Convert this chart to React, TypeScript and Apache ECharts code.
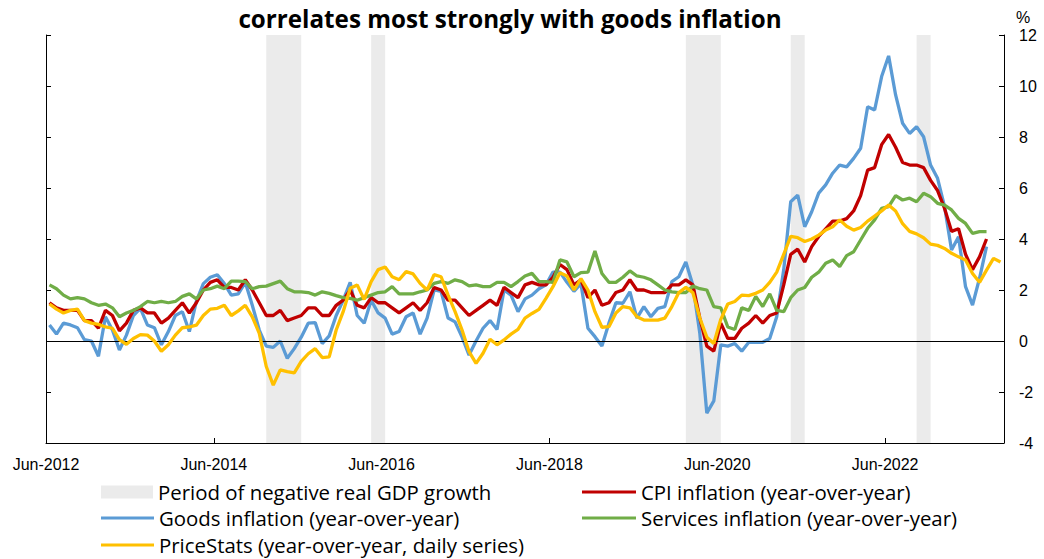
import React, { useEffect, useRef } from "react";
import * as echarts from "echarts";

// x index: 0 = Jun-2012 (monthly points, mid-month); axis starts half a month earlier
const tickLabels = ["Jun-2012", "Jun-2014", "Jun-2016", "Jun-2018", "Jun-2020", "Jun-2022"];

const cpi = [
  1.5, 1.3, 1.2, 1.2, 1.2, 0.8, 0.8,
  0.5, 1.2, 1.0, 0.4, 0.7, 1.2, 1.3, 1.1, 1.1, 0.7, 0.9, 1.2,
  1.5, 1.1, 1.5, 2.0, 2.3, 2.4, 2.1, 2.1, 2.0, 2.4, 2.0, 1.5,
  1.0, 1.0, 1.2, 0.8, 0.9, 1.0, 1.3, 1.3, 1.0, 1.0, 1.4, 1.6,
  2.0, 1.4, 1.3, 1.7, 1.5, 1.5, 1.3, 1.1, 1.3, 1.5, 1.2, 1.5,
  2.1, 2.0, 1.6, 1.6, 1.3, 1.0, 1.2, 1.4, 1.6, 1.4, 2.1, 1.9,
  1.7, 2.2, 2.3, 2.2, 2.2, 2.5, 3.0, 2.8, 2.2, 2.4, 1.7, 2.0,
  1.4, 1.5, 1.9, 2.0, 2.4, 2.0, 2.0, 1.9, 1.9, 1.9, 2.2, 2.2,
  2.4, 2.2, 0.9, -0.2, -0.4, 0.7, 0.1, 0.1, 0.5, 0.7, 1.0, 0.7,
  1.0, 1.1, 2.2, 3.4, 3.6, 3.1, 3.7, 4.1, 4.4, 4.7, 4.7, 4.8,
  5.1, 5.7, 6.7, 6.8, 7.7, 8.1, 7.6, 7.0, 6.9, 6.9, 6.8, 6.3,
  5.9, 5.2, 4.3, 4.4, 3.4, 2.8, 3.3, 4.0,
];

const goods = [
  0.63, 0.27, 0.7, 0.63, 0.52, 0.05, 0.0,
  -0.6, 0.95, 0.43, -0.35, 0.23, 1.0, 1.28, 0.63, 0.52, -0.15, 0.37, 1.0,
  1.15, 0.37, 1.55, 2.25, 2.5, 2.6, 2.25, 1.8, 1.85, 2.3, 1.4, 0.43,
  -0.2, -0.25, 0.0, -0.68, -0.3, 0.15, 0.7, 0.72, -0.1, 0.2, 1.0, 1.6,
  2.3, 1.0, 0.7, 1.6, 1.1, 0.9, 0.27, 0.37, 0.95, 1.1, 0.27, 0.9,
  2.0, 1.95, 0.9, 0.75, 0.15, -0.55, 0.0, 0.5, 0.8, 0.45, 2.0, 1.8,
  1.15, 1.65, 1.8, 2.05, 2.2, 2.7, 2.7, 2.3, 1.95, 2.25, 0.5, 0.17,
  -0.2, 0.7, 1.5, 1.48, 1.93, 0.9, 1.35, 0.95, 1.28, 1.35, 2.33, 2.52,
  3.1, 2.2, 0.3, -2.83, -2.35, -0.15, -0.2, -0.1, -0.4, -0.05, -0.05, -0.05,
  0.1, 0.95, 2.8, 5.46, 5.72, 4.48, 5.07, 5.8, 6.12, 6.58, 6.9, 6.83,
  7.16, 7.56, 9.19, 9.06, 10.37, 11.18, 9.65, 8.54, 8.14, 8.4, 8.01, 6.9,
  6.38, 5.27, 3.57, 4.09, 2.13, 1.41, 2.46, 3.7,
];

const services = [
  2.2, 2.05, 1.8, 1.65, 1.7, 1.65, 1.5,
  1.4, 1.45, 1.3, 0.95, 1.1, 1.2, 1.35, 1.55, 1.5, 1.55, 1.5, 1.55,
  1.75, 1.85, 1.65, 2.0, 2.05, 2.15, 2.05, 2.35, 2.35, 2.33, 2.05, 2.13,
  2.15, 2.25, 2.35, 2.05, 1.93, 1.93, 1.9, 1.8, 1.93, 1.87, 1.78, 1.7,
  1.67, 1.6, 1.7, 1.8, 1.9, 1.93, 2.13, 1.85, 1.85, 1.85, 1.93, 2.0,
  2.26, 2.33, 2.26, 2.4, 2.33, 2.16, 2.2, 2.13, 2.13, 2.3, 2.3, 2.13,
  2.33, 2.55, 2.65, 2.33, 2.33, 2.3, 3.18, 3.1, 2.52, 2.68, 2.7, 3.53,
  2.65, 2.3, 2.3, 2.5, 2.75, 2.55, 2.5, 2.4, 2.2, 2.0, 1.93, 1.9,
  1.9, 2.15, 2.05, 2.0, 1.35, 1.3, 0.55, 0.45, 1.3, 1.2, 1.75, 1.35,
  1.85, 1.2, 1.15, 1.7, 2.0, 2.1, 2.5, 2.7, 3.05, 3.18, 2.92, 3.35,
  3.5, 3.96, 4.42, 4.75, 5.2, 5.27, 5.7, 5.53, 5.6, 5.46, 5.79, 5.66,
  5.4, 5.33, 5.14, 4.81, 4.61, 4.22, 4.29, 4.29,
];

const priceStats = [
  1.45, 1.25, 1.1, 1.2, 1.25, 0.8, 0.7,
  0.65, 0.55, 0.5, 0.05, -0.13, 0.1, 0.25, 0.23, 0.0, -0.4, -0.15, 0.23,
  0.52, 0.55, 0.62, 1.0, 1.25, 1.28, 1.4, 1.0, 1.18, 1.4, 0.95, 0.3,
  -1.0, -1.73, -1.13, -1.2, -1.25, -0.8, -0.5, -0.3, -0.65, -0.62, 0.43, 1.15,
  2.07, 2.2, 1.63, 2.33, 2.8, 2.9, 2.52, 2.4, 2.72, 2.63, 2.26, 2.0,
  2.6, 2.52, 1.8, 1.15, 0.43, -0.42, -0.88, -0.48, 0.07, -0.15, 0.04, 0.27,
  0.46, 0.9, 1.08, 1.24, 1.67, 2.13, 2.68, 2.55, 2.0, 2.45, 2.0, 1.15,
  0.54, 0.56, 1.1, 1.35, 1.3, 0.95, 0.82, 0.82, 0.82, 0.9, 1.35, 1.9,
  2.1, 1.9, 0.9, 0.15, -0.1, 0.85, 1.45, 1.55, 1.8, 1.78, 1.87, 2.0,
  2.3, 2.7, 3.4, 4.1, 4.05, 3.9, 4.0, 4.15, 4.35, 4.48, 4.75, 4.5,
  4.35, 4.45, 4.7, 4.9, 5.1, 5.33, 5.1, 4.6, 4.3, 4.2, 4.05, 3.8,
  3.75, 3.63, 3.44, 3.3, 3.18, 2.65, 2.3, 2.78, 3.24, 3.1,
];

// periods of negative real GDP growth (month index start, end)
const negGdpPeriods = [
  [31, 36],
  [46, 48],
  [91, 96],
  [106, 108],
  [124, 126],
];

const NAME_GDP = "Period of negative real GDP growth";
const NAME_CPI = "CPI inflation (year-over-year)";
const NAME_GOODS = "Goods inflation (year-over-year)";
const NAME_SERV = "Services inflation (year-over-year)";
const NAME_PS = "PriceStats (year-over-year, daily series)";

const toPoints = (arr: number[]) => arr.map((v, i) => [i, v]);

export default function App() {
  const ref = useRef<HTMLDivElement>(null);

  useEffect(() => {
    if (!ref.current) return;
    const chart = echarts.init(ref.current, null, { renderer: "svg" });
    const axisFont = "Liberation Sans";
    const legendText = { fontFamily: "Open Sans", fontSize: 20.4, color: "#000", lineHeight: 20 };

    const lineSeries = (name: string, data: number[], color: string, z: number) => ({
      name,
      type: "line",
      data: toPoints(data),
      xAxisIndex: 0,
      yAxisIndex: 1,
      showSymbol: false,
      symbol: "none",
      color,
      lineStyle: { color, width: 3.3 },
      itemStyle: { color },
      z,
      silent: true,
    });

    const oneLegend = (name: string, left: number, top: number, w: number, h: number) => ({
      data: [name],
      left,
      top,
      padding: 0,
      icon: "rect",
      itemWidth: w,
      itemHeight: h,
      selectedMode: false,
      textStyle: legendText,
    });

    const option: any = {
      animation: false,
      backgroundColor: "#fff",
      grid: { left: 46, right: 40, top: 35, bottom: 116 },
      graphic: [
        {
          type: "text",
          x: 510,
          y: 18,
          style: {
            text: "correlates most strongly with goods inflation",
            fill: "#000",
            font: "bold 24.2px 'Open Sans'",
            align: "center",
            verticalAlign: "middle",
          },
        },
        {
          type: "text",
          x: 1016,
          y: 17,
          style: {
            text: "%",
            fill: "#000",
            font: "16px 'Liberation Sans'",
            align: "left",
            verticalAlign: "middle",
          },
        },
      ],
      legend: [
        oneLegend(NAME_GDP, 101, 482, 52, 13),
        oneLegend(NAME_GOODS, 101, 508, 53, 3),
        oneLegend(NAME_PS, 101, 535, 53, 3),
        oneLegend(NAME_CPI, 582, 482, 54, 3),
        oneLegend(NAME_SERV, 582, 508, 54, 3),
      ],
      xAxis: {
        type: "value",
        min: -0.5,
        max: 136.5,
        interval: 24,
        axisLine: { show: true, onZero: false, lineStyle: { color: "#000", width: 1 } },
        axisTick: { show: true, inside: true, length: 5, lineStyle: { color: "#000" } },
        splitLine: { show: false },
        axisLabel: {
          show: true,
          margin: 13,
          showMaxLabel: false,
          fontFamily: axisFont,
          fontSize: 16,
          color: "#000",
          formatter: (v: number) => {
            const k = Math.round((v + 0.5) / 24);
            const exact = Math.abs(v + 0.5 - k * 24) < 0.01;
            return exact && tickLabels[k] ? tickLabels[k] : "";
          },
        },
      },
      yAxis: [
        {
          type: "value",
          position: "left",
          min: -4,
          max: 12,
          interval: 2,
          axisLine: { show: true, onZero: false, lineStyle: { color: "#000", width: 1 } },
          axisTick: { show: true, inside: true, length: 5, lineStyle: { color: "#000" } },
          axisLabel: { show: false },
          splitLine: { show: false },
        },
        {
          type: "value",
          position: "right",
          min: -4,
          max: 12,
          interval: 2,
          axisLine: { show: true, onZero: false, lineStyle: { color: "#000", width: 1 } },
          axisTick: { show: true, inside: true, length: 5, lineStyle: { color: "#000" } },
          axisLabel: {
            show: true,
            margin: 15,
            fontFamily: axisFont,
            fontSize: 16,
            color: "#000",
          },
          splitLine: { show: false },
        },
      ],
      series: [
        {
          name: NAME_GDP,
          type: "line",
          data: [],
          xAxisIndex: 0,
          yAxisIndex: 1,
          color: "#EBEBEB",
          itemStyle: { color: "#EBEBEB" },
          z: 1,
          silent: true,
          markArea: {
            silent: true,
            itemStyle: { color: "#EBEBEB" },
            data: negGdpPeriods.map(([a, b]) => [{ xAxis: a }, { xAxis: b }]),
          },
          markLine: {
            silent: true,
            symbol: ["none", "none"],
            label: { show: false },
            lineStyle: { color: "#000", width: 1, type: "solid" },
            data: [{ yAxis: 0 }],
          },
        },
        lineSeries(NAME_GOODS, goods, "#5B9BD5", 3),
        lineSeries(NAME_CPI, cpi, "#C00000", 4),
        lineSeries(NAME_SERV, services, "#70AD47", 5),
        lineSeries(NAME_PS, priceStats, "#FFC000", 6),
      ],
    };

    chart.setOption(option);
    return () => {
      chart.dispose();
    };
  }, []);

  return (
    <div
      ref={ref}
      style={{ position: "fixed", left: 0, top: 0, width: 1044, height: 559, background: "#fff" }}
    />
  );
}
